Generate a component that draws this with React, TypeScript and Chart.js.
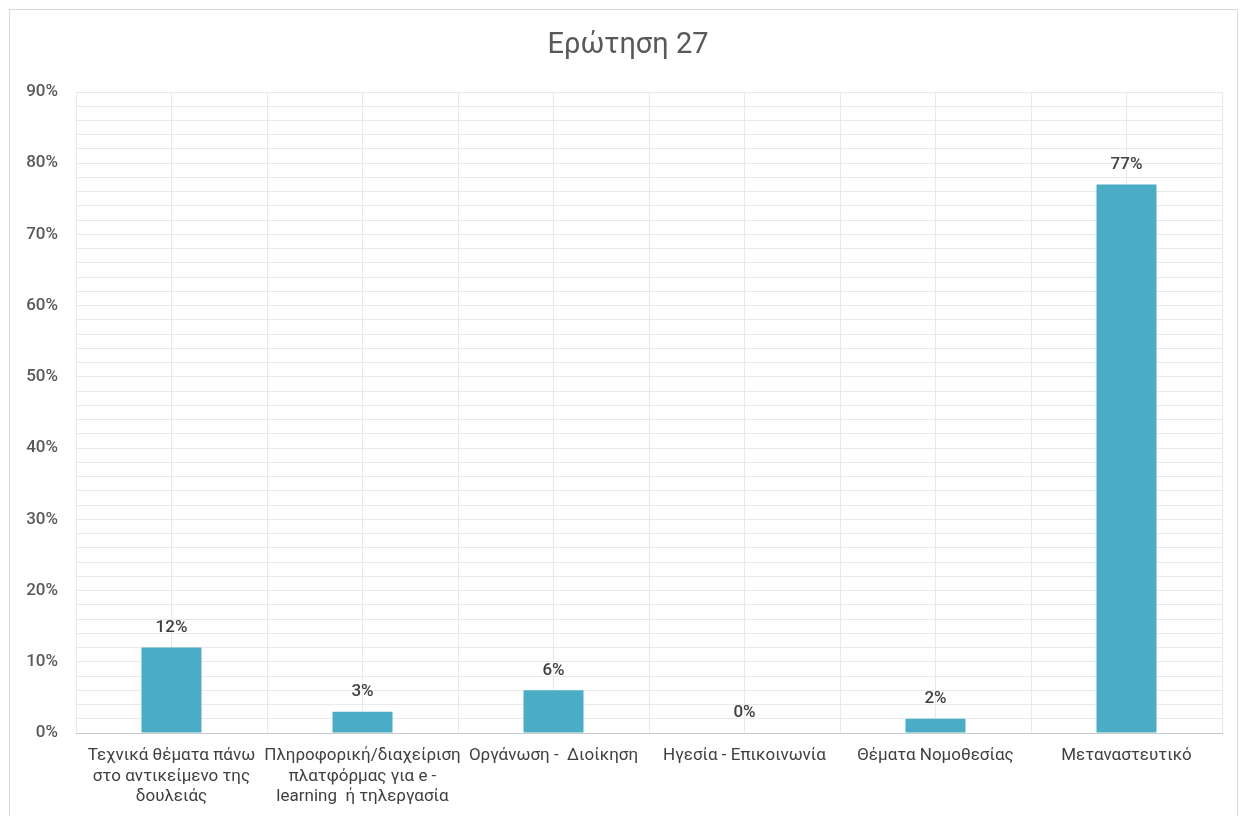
import React, { useEffect, useRef } from "react";
import { Chart, registerables } from "chart.js";

Chart.register(...registerables);

const titleText = "Ερώτηση 27";
const categories: (string | string[])[] = [
  ["Τεχνικά θέματα πάνω", "στο αντικείμενο της", "δουλειάς"],
  ["Πληροφορική/διαχείριση", "πλατφόρμας για e -", "learning  ή τηλεργασία"],
  "Οργάνωση -  Διοίκηση",
  "Ηγεσία - Επικοινωνία",
  "Θέματα Νομοθεσίας",
  "Μεταναστευτικό",
];
const values = [12, 3, 6, 0, 2, 77];
const yMin = 0;
const yMax = 90;
const yMinorStep = 2;
const yLabelStep = 10;

const FONT = "Roboto, 'DejaVu Sans', sans-serif";

const valueLabelPlugin = {
  id: "valueLabels",
  afterDatasetsDraw(chart: any) {
    const ctx = chart.ctx;
    const meta = chart.getDatasetMeta(0);
    ctx.save();
    ctx.font = `500 17px ${FONT}`;
    ctx.fillStyle = "#404040";
    ctx.textAlign = "center";
    ctx.textBaseline = "middle";
    meta.data.forEach((bar: any, i: number) => {
      const v = chart.data.datasets[0].data[i];
      ctx.fillText(`${v}%`, bar.x, bar.y - 20);
    });
    ctx.restore();
  },
};

const titlePlugin = {
  id: "centeredTitle",
  afterDraw(chart: any) {
    const ctx = chart.ctx;
    ctx.save();
    ctx.font = `normal 29px ${FONT}`;
    ctx.fillStyle = "#595959";
    ctx.textAlign = "center";
    ctx.textBaseline = "middle";
    ctx.fillText(titleText, 628, 46);
    ctx.restore();
  },
};

export default function App() {
  const ref = useRef<HTMLCanvasElement>(null);
  useEffect(() => {
    if (!ref.current) return;
    const chart = new Chart(ref.current, {
      type: "bar",
      data: {
        labels: categories,
        datasets: [
          {
            data: values,
            backgroundColor: "#4BACC6",
            borderWidth: 0,
            categoryPercentage: 1,
            barPercentage: 0.314,
          },
        ],
      },
      plugins: [valueLabelPlugin, titlePlugin],
      options: {
        animation: false,
        responsive: false,
        maintainAspectRatio: false,
        layout: { padding: { left: 0, right: 24, top: 92, bottom: 0 } },
        plugins: {
          legend: { display: false },
          tooltip: { enabled: false },
          title: { display: false },
        },
        scales: {
          x: {
            type: "category",
            offset: true,
            grid: { offset: true, color: "#e9e9e9", lineWidth: 1, drawTicks: false },
            border: { display: true, color: "#c8c8c8", width: 1 },
            ticks: {
              color: "#404040",
              font: { family: FONT, size: 17 },
              padding: 13,
              maxRotation: 0,
              autoSkip: false,
            },
            afterFit: (s: any) => {
              s.height = 83;
            },
          },
          x2: {
            type: "category",
            position: "top",
            offset: true,
            grid: { offset: false, color: "#e9e9e9", lineWidth: 1, drawTicks: false },
            border: { display: false },
            ticks: { display: false },
            afterFit: (s: any) => {
              s.height = 0;
            },
          },
          y: {
            type: "linear",
            min: yMin,
            max: yMax,
            border: { display: false },
            grid: {
              color: (c: any) => (c.tick && c.tick.value === 0 ? "#c8c8c8" : "#e9e9e9"),
              lineWidth: 1,
              drawTicks: false,
            },
            ticks: {
              stepSize: yMinorStep,
              maxTicksLimit: 100,
              autoSkip: false,
              color: "#595959",
              font: { family: FONT, size: 17, weight: 500 },
              padding: 18,
              callback: (v: any) => (Number(v) % yLabelStep === 0 ? `${v}%` : ""),
            },
            afterFit: (s: any) => {
              s.width = 76;
            },
          },
        },
      },
    } as any);
    return () => chart.destroy();
  }, []);

  return (
    <div
      style={{
        position: "fixed",
        left: 0,
        top: 0,
        width: 1246,
        height: 816,
        overflow: "hidden",
        background: "#ffffff",
      }}
    >
      <div
        style={{
          position: "absolute",
          left: 9,
          top: 9,
          width: 1229,
          height: 840,
          border: "1.5px solid #d9d9d9",
          boxSizing: "border-box",
        }}
      />
      <canvas
        ref={ref}
        width={1246}
        height={816}
        style={{ position: "absolute", left: 0, top: 0, width: 1246, height: 816 }}
      />
    </div>
  );
}
